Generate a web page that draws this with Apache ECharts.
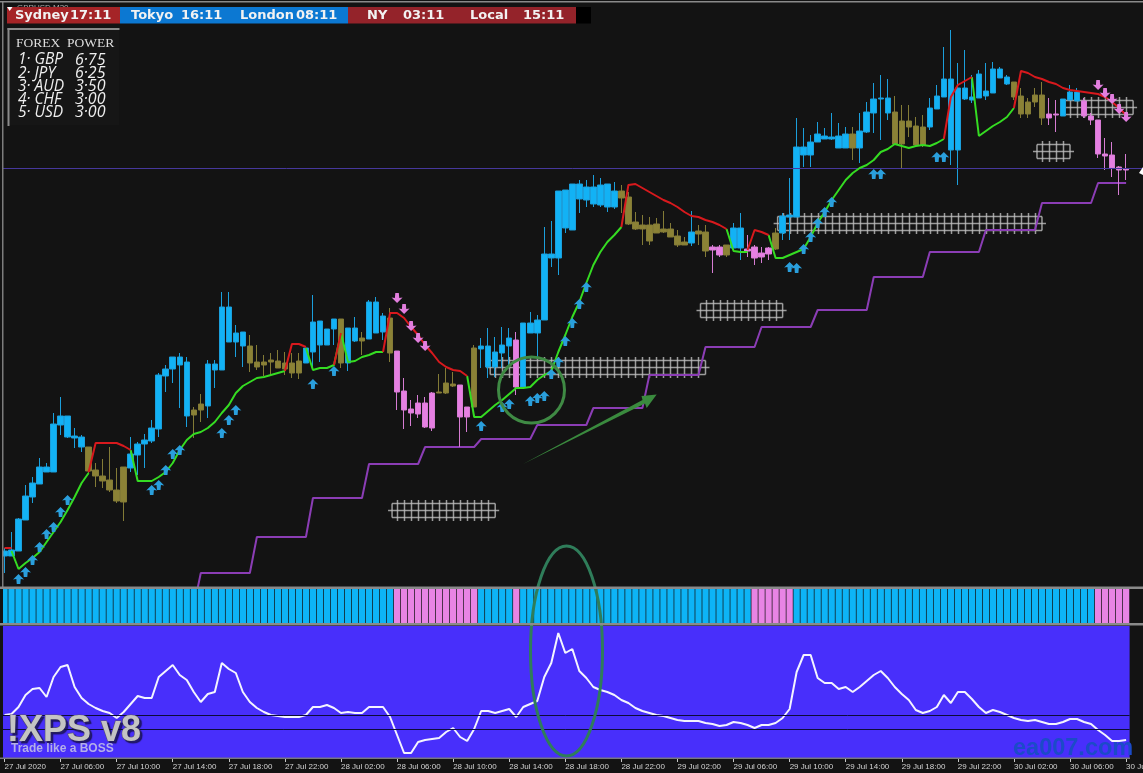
<!DOCTYPE html>
<html><head><meta charset="utf-8">
<style>html,body{margin:0;padding:0;background:#131313}#c{width:1143px;height:773px}</style>
<script src="https://cdn.jsdelivr.net/npm/echarts@6/dist/echarts.min.js"></script>
</head><body><div id="c"></div>
<script>
// Tick labels, one every 8 M30 bars
const tickLabels = ['27 Jul 2020','27 Jul 06:00','27 Jul 10:00','27 Jul 14:00','27 Jul 18:00','27 Jul 22:00','28 Jul 02:00','28 Jul 06:00','28 Jul 10:00','28 Jul 14:00','28 Jul 18:00','28 Jul 22:00','29 Jul 02:00','29 Jul 06:00','29 Jul 10:00','29 Jul 14:00','29 Jul 18:00','29 Jul 22:00','30 Jul 02:00','30 Jul 06:00','30 Jul 10:00'];
// Candles, price in points: [bodyLow, bodyHigh, low, high]
const candles = [[31,36,14,39],[31,37,31,55],[36,68,36,69],[67,91,67,102],[90,104,84,110],[103,120,103,129],[115,120,115,124],[115,163,115,174],[162,171,152,190],[150,171,149,171],
[149,151,139,159],[140,150,135,152],[116,140,114,140],[111,117,100,124],[106,111,99,128],[97,107,95,140],[86,97,84,119],[85,120,66,120],[119,133,115,150],[132,143,112,145],
[143,147,119,153],[146,159,144,167],[158,212,150,214],[211,218,195,222],[218,230,204,230],[222,230,179,234],[171,225,160,230],[172,177,149,180],[177,183,165,193],[181,223,169,227],
[217,223,199,227],[217,280,217,295],[245,280,245,295],[245,254,230,262],[241,255,220,255],[224,241,215,252],[220,225,217,242],[222,225,211,232],[225,227,212,234],[219,226,219,237],
[218,224,212,235],[214,224,209,234],[214,226,208,234],[224,239,224,239],[235,265,219,292],[242,266,225,266],[242,258,242,258],[258,268,242,268],[224,268,219,268],[224,259,216,259],
[246,259,245,270],[246,249,232,255],[248,285,248,287],[254,285,254,290],[255,271,247,274],[234,269,225,279],[195,236,177,236],[177,196,158,209],[174,178,161,187],[173,184,169,192],
[160,184,159,190],[159,194,156,195],[194,195,194,213],[194,204,193,219],[201,203,200,215],[170,202,140,202],[170,180,155,180],[180,239,180,242],[238,241,219,249],[220,241,209,259],
[220,235,210,250],[234,242,219,260],[241,249,220,259],[200,247,192,255],[200,264,200,264],[254,264,254,275],[254,267,230,272],[267,333,267,360],[329,333,320,366],[329,396,312,396],
[359,397,354,397],[357,403,357,403],[388,403,374,407],[387,400,380,407],[383,400,380,412],[382,402,380,409],[380,403,375,403],[380,396,378,405],[389,396,374,402],[363,390,362,395],
[358,365,357,375],[358,362,342,372],[346,362,342,370],[354,363,354,369],[355,358,354,376],[350,358,350,364],[342,351,340,357],[342,345,342,350],[344,355,341,376],[353,356,342,362],
[336,355,330,362],[337,340,314,342],[332,340,330,342],[332,342,330,342],[339,359,339,364],[339,359,327,374],[336,338,330,352],[329,340,322,342],[330,334,324,340],[333,339,327,340],
[338,354,337,359],[354,371,347,374],[370,372,347,409],[370,440,370,469],[432,440,420,459],[432,445,420,452],[445,453,445,465],[448,451,448,459],[448,450,447,474],[439,451,439,464],
[439,453,439,460],[439,453,427,460],[439,456,424,474],[455,475,454,485],[474,488,454,504],[488,489,447,512],[474,489,467,508],[443,475,442,491],[443,466,418,482],[460,466,450,482],
[442,461,440,470],[442,460,440,472],[460,479,457,489],[478,491,478,502],[490,508,490,540],[437,508,422,557],[437,499,402,524],[488,499,487,537],[487,490,484,512],[489,513,489,517],
[491,496,487,524],[494,518,494,525],[509,518,509,520],[503,510,502,512],[490,505,487,505],[473,491,469,499],[473,485,469,489],[485,492,480,499],[469,492,462,505],[469,473,462,489],
[472,473,455,487],[471,488,471,488],[487,495,487,502],[486,495,486,499],[471,486,469,489],[467,471,462,474],[433,467,429,467],[431,433,417,449],[419,432,410,445],[417,420,392,421],[417,418,407,433]];
// Bars whose candle is olive or pink (first, last); every other bar is blue
const oliveRuns = [[12,17],[27,28],[35,42],[48,48],[51,51],[55,55],[62,64],[67,67],[88,97],[99,100],[103,103],[110,110],[121,121],[127,131],[144,148]];
const pinkRuns = [[56,61],[65,66],[73,73],[101,102],[106,109],[149,150],[154,160]];
// Trend line: green while bullish, red while bearish
const greenLine = [null,36,18,24,29,35,45,55,65,77,90,104,114,null,null,null,null,null,137,106,106,106,110,115,124,137,147,153,155,159,165,174,182,194,201,205,209,210,212,214,216,null,null,239,217,219,219,222,254,225,226,230,232,235,235,null,null,null,null,null,null,null,null,null,null,null,211,170,170,176,182,187,193,199,199,200,207,212,216,235,252,270,285,304,322,335,345,352,360,null,null,null,null,null,null,null,null,null,null,null,null,null,null,358,336,335,335,null,null,352,329,329,332,335,338,350,364,375,387,397,407,414,419,422,427,435,438,443,441,439,441,442,441,444,448,null,null,null,510,451,456,461,465,470,479,null,null,null,null,null,null,null,null,null,null,null,null,null,null,null,null];
const redLine = [39,39,null,null,null,null,null,null,null,null,null,null,115,144,144,144,144,141,137,null,null,null,null,null,null,null,null,null,null,null,null,null,null,null,null,null,null,null,null,null,216,243,243,240,null,null,null,222,254,null,null,null,null,null,235,274,274,269,260,252,242,234,225,220,217,216,211,null,null,null,null,null,null,null,null,null,null,null,null,null,null,null,null,null,null,null,null,null,360,402,403,399,395,391,387,384,380,375,371,370,367,365,362,358,null,null,337,357,355,352,null,null,null,null,null,null,null,null,null,null,null,null,null,null,null,null,null,null,null,null,null,null,null,null,448,490,502,506,510,null,null,null,null,null,479,516,514,510,508,505,503,499,497,496,495,494,493,490,485,479,472];
// Support steps
const supportLine = [null,null,null,null,null,null,null,null,null,null,null,null,null,null,null,null,null,null,null,null,null,null,null,null,null,null,null,-20,14,14,14,14,14,14,14,14,50,50,50,50,50,50,50,50,89,89,89,89,89,89,89,89,123,123,123,123,123,123,123,123,140,140,140,140,140,140,140,140,148,148,148,148,148,148,148,148,162,162,162,162,162,162,162,162,179,179,179,179,179,179,179,179,212,212,212,212,212,212,212,212,240,240,240,240,240,240,240,240,260,260,260,260,260,260,260,260,277,277,277,277,277,277,277,277,310,310,310,310,310,310,310,310,335,335,335,335,335,335,335,335,357,357,357,357,357,357,357,357,384,384,384,384,384,384,384,384,404,404,404,404,404];
const levelPrice = 419;
// Arrow signals [bar, price]
const upArrows = [[2,8],[3,15],[4,27],[5,40],[6,53],[7,60],[8,75],[9,87],[21,97],[22,102],[23,117],[24,133],[25,137],[31,154],[32,167],[33,177],[44,203],[47,216],[68,161],[71,180],[72,183],[75,186],[76,189],[77,191],[78,213],[79,225],[80,246],[81,264],[82,283],[83,300],[112,320],[113,319],[114,338],[115,350],[116,364],[117,375],[118,385],[124,413],[125,413],[133,430],[134,430]];
const downArrows = [[56,289],[57,278],[58,261],[59,249],[60,241],[156,502],[157,494],[158,488],[159,478],[160,470]];
// Hatched zones [firstBar, lastBar, price]
const zones = [[56,69,77],[70,99,220],[100,110,277],[111,147,364],[148,151,436],[152,160,480]];
// State ribbon runs [state, bars]
const ribbonRuns = [['up',56],['down',12],['up',5],['down',1],['up',33],['down',6],['up',43],['down',5]];
// Momentum oscillator
const momentum = [43,44,51,63,69,70,61,81,91,93,71,60,54,50,47,45,40,46,54,62,60,60,81,87,93,83,78,66,56,64,66,95,89,85,66,56,50,46,43,42,41,41,41,43,51,51,53,50,45,46,45,45,51,51,51,41,23,5,5,16,18,19,20,26,30,21,17,29,47,47,45,47,49,41,51,54,57,81,95,125,105,109,87,80,71,68,66,63,58,55,50,47,45,43,42,40,38,37,37,37,35,34,32,33,36,35,33,30,33,33,35,40,49,86,103,103,80,75,75,69,71,66,71,77,83,87,80,71,64,58,48,45,47,51,63,55,66,66,59,51,45,48,46,43,40,38,37,38,36,34,34,36,39,39,36,34,28,23,17,17,18];
const momentumLevels = [43,29];
// Panels
const sessions = [['Sydney',15,'17:11',70],['Tokyo',131,'16:11',181],['London',240,'08:11',296],['NY',367,'03:11',403],['Local',470,'15:11',523]];
const powerRows = [['1· GBP','6·75'],['2· JPY','6·25'],['3· AUD','3·50'],['4· CHF','3·00'],['5· USD','3·00']];

const BLUE='#12b2f5', OLIVE='#8b8236', PINK='#e67fe2';
function classOf(i){
  const inRuns=r=>r.some(p=>i>=p[0]&&i<=p[1]);
  return inRuns(oliveRuns)?'o':inRuns(pinkRuns)?'p':'b';
}
const cColor={b:[BLUE,'#1b9fdc'],o:[OLIVE,'#837b36'],p:[PINK,'#d67cd3']};
const barCount=candles.length;
const cats=Array.from({length:barCount},(_,i)=>i%8===0?tickLabels[i/8]:'');
const mainCats=cats.concat(['','']);
const candleItems=candles.map((d,i)=>{const c=cColor[classOf(i)];return {value:[d[0],d[1],d[2],d[3]],itemStyle:{color:c[0],color0:c[0],borderColor:c[1],borderColor0:c[1],borderColorDoji:c[1]}};});
const ribbon=[];ribbonRuns.forEach(r=>{for(let k=0;k<r[1];k++)ribbon.push({value:1,itemStyle:{color:r[0]==='up'?'#0db4f6':'#e884e4'}});});
const ARROW='path://M5 0 L10 5.5 L7 5 L6.6 10 L3.4 10 L3 5 L0 5.5 Z';
const STEP=7.01;
const zoneColor='rgba(190,190,190,0.8)';
function renderZone(params,api){
  const a=api.coord([api.value(0),api.value(2)]),b=api.coord([api.value(1),api.value(2)]);
  const kids=[];const line=(x1,y1,x2,y2)=>kids.push({type:'line',shape:{x1,y1,x2,y2},style:{stroke:zoneColor,lineWidth:1.5}});
  const y=Math.round(a[1])+.5;
  line(a[0]-5,y-7,b[0]+7,y-7);line(a[0]-5,y+7,b[0]+7,y+7);line(a[0]-9,y,b[0]+11,y);
  line(a[0]-5,y-7,a[0]-5,y+7);line(b[0]+7,y-7,b[0]+7,y+7);
  for(let v=api.value(0);v<=api.value(1);v++){const p=Math.round(api.coord([v,api.value(2)])[0])+.5;line(p,y-10.5,p,y+10.5);}
  return {type:'group',children:kids};
}
const g=[];
const T=(text,x,y,font,fill,extra)=>g.push({type:'text',z:100,style:Object.assign({text,x,y,font,fill,textVerticalAlign:'middle'},extra||{})});
const R=(x,y,w,h,fill,z)=>g.push({type:'rect',z:z||100,shape:{x,y,width:w,height:h},style:{fill}});
// frame
R(0,0,3,773,'#131313',90);
R(2,1,1.5,586,'#7d7d7d',91);
R(0,1,1143,1.5,'#8a8a8a',91);
R(0,586.5,1143,2.5,'#8a8a8a',91);
R(0,623,1143,2.5,'#8a8a8a',91);
R(0,757.5,1130,1.5,'#77777f',91);
// session header
T('GBPUSD,M30',17,8,'8px "Liberation Sans"','#aaaaaa',{});
R(7,7,113,16.5,'#a52427');R(120,7,228,16.5,'#0c78d2');R(348,7,228,16.5,'#94232a');R(576,7,15,16.5,'#000000');
sessions.forEach(s=>{T(s[0],s[1],15.5,'bold 13px "DejaVu Sans"','#f2f2f2');T(s[2],s[3],15.5,'bold 13px "DejaVu Sans"','#f2f2f2');});
g.push({type:'polygon',z:101,shape:{points:[[7,7],[12.5,7],[9.7,11]]},style:{fill:'#ffffff'}});
// power panel
R(8,28,111,97,'#161616',95);R(7.5,28,112,2,'#8a8a8a',96);R(7.5,28,2,98,'#8a8a8a',96);
T('FOREX  POWER',16,43,'13.5px "Liberation Serif"','#dddddd');
powerRows.forEach((r,i)=>{const y=60+i*13.2;T(r[0],18,y,'italic 15.5px "Open Sans"','#eeeeee');T(r[1],75,y,'italic 16px "Open Sans"','#eeeeee');});
// annotations
g.push({type:'circle',z:60,shape:{cx:531.5,cy:390,r:33},style:{fill:'none',stroke:'#3f8a44',lineWidth:3}});
g.push({type:'ellipse',z:60,shape:{cx:566.5,cy:651,rx:36,ry:105},style:{fill:'none',stroke:'#2f7d5a',lineWidth:3}});
g.push({type:'polygon',z:60,shape:{points:[[523,464],[642.5,400],[641.5,396],[656.7,394.5],[646.7,408],[645,403.5]]},style:{fill:'#3a8a3e'}});
g.push({type:'polygon',z:60,shape:{points:[[1139,173],[1143,167],[1143,175]]},style:{fill:'#ffffff'}});
// logos
T('!XPS v8',7,731,'bold 36px "Liberation Sans"','#c4c4c4',{stroke:'#5a5570',lineWidth:1.2,textShadowColor:'rgba(20,15,60,.7)',textShadowBlur:1,textShadowOffsetX:2,textShadowOffsetY:2});
T('Trade like a BOSS',11,749,'bold 12px "Liberation Sans"','#b4afe8');
T('ea007.com',1013,749,'bold 23.5px "Liberation Sans"','#1b4bc8');

const option={
 animation:false,backgroundColor:'#131313',
 grid:[
  {left:1,top:3,width:STEP*163,height:584,show:false,outerBoundsMode:'none'},
  {left:1,top:589,width:STEP*161,height:34,show:false,outerBoundsMode:'none'},
  {left:1,top:626,width:STEP*161,height:132,show:true,backgroundColor:'#482ffb',borderWidth:0,outerBoundsMode:'none'}
 ],
 xAxis:[
  {type:'category',gridIndex:0,data:mainCats,show:false},
  {type:'category',gridIndex:1,data:cats,show:false},
  {type:'category',gridIndex:2,data:cats,axisLine:{show:false},
   axisTick:{show:true,interval:7,alignWithLabel:true,length:4,lineStyle:{color:'#c8c8c8'}},
   axisLabel:{interval:7,align:'left',margin:5,color:'#d2d2d2',fontSize:8,fontFamily:'"Liberation Sans"',hideOverlap:false}}
 ],
 yAxis:[
  {type:'value',gridIndex:0,min:0,max:584,show:false,splitLine:{show:false}},
  {type:'value',gridIndex:1,min:0,max:1,show:false,splitLine:{show:false}},
  {type:'value',gridIndex:2,min:0,max:132,show:false,splitLine:{show:false}}
 ],
 series:[
  {name:'Level',type:'line',xAxisIndex:0,yAxisIndex:0,data:[],z:1,markLine:{silent:true,symbol:'none',label:{show:false},lineStyle:{color:'#46389c',width:1,type:'solid'},data:[{yAxis:levelPrice}]}},
  {name:'Zones',type:'custom',xAxisIndex:0,yAxisIndex:0,z:2,data:zones,encode:{x:[0,1],y:2},renderItem:renderZone,clip:false},
  {name:'Support',type:'line',xAxisIndex:0,yAxisIndex:0,data:supportLine,z:3,symbol:'none',clip:true,lineStyle:{color:'#8b3db5',width:2},connectNulls:false},
  {name:'Price',type:'candlestick',xAxisIndex:0,yAxisIndex:0,data:candleItems,z:4,barWidth:6},
  {name:'Bull trend',type:'line',xAxisIndex:0,yAxisIndex:0,data:greenLine,z:5,symbol:'none',lineStyle:{color:'#35dc22',width:2}},
  {name:'Bear trend',type:'line',xAxisIndex:0,yAxisIndex:0,data:redLine,z:5,symbol:'none',lineStyle:{color:'#d8191d',width:2}},
  {name:'Buy',type:'scatter',xAxisIndex:0,yAxisIndex:0,data:upArrows,z:6,symbol:ARROW,symbolSize:[11,10],itemStyle:{color:'#2a9fdc',opacity:1}},
  {name:'Sell',type:'scatter',xAxisIndex:0,yAxisIndex:0,data:downArrows,z:6,symbol:ARROW,symbolRotate:180,symbolSize:[11,10],itemStyle:{color:'#e27ede',opacity:1}},
  {name:'Ribbon',type:'bar',xAxisIndex:1,yAxisIndex:1,data:ribbon,barWidth:6.3,z:2},
  {name:'Momentum',type:'line',xAxisIndex:2,yAxisIndex:2,data:momentum,z:3,symbol:'none',lineStyle:{color:'#f4f4ff',width:2},
   markLine:{silent:true,symbol:'none',label:{show:false},lineStyle:{color:'#0c0c3a',width:1,type:'solid'},data:momentumLevels.map(v=>({yAxis:v}))}}
 ],
 graphic:g
};
echarts.init(document.getElementById('c'),null,{renderer:'canvas'}).setOption(option);
</script></body></html>
